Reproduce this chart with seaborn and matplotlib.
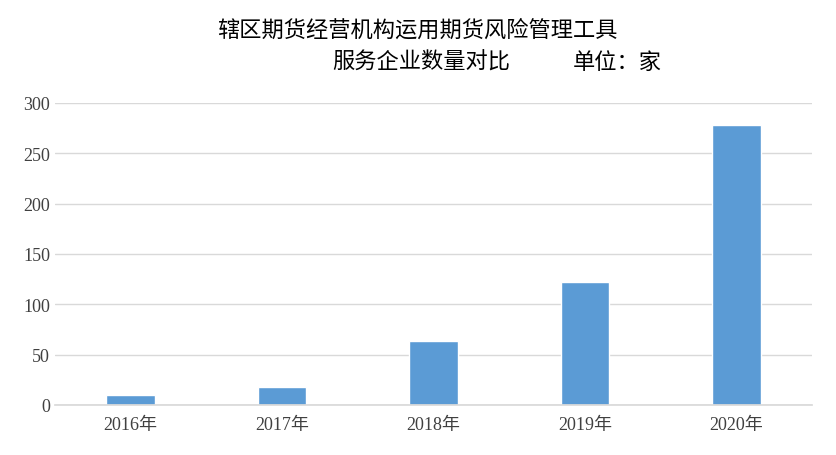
import matplotlib
matplotlib.use("Agg")
import matplotlib.pyplot as plt
import seaborn as sns
import pandas as pd

years = ["2016年", "2017年", "2018年", "2019年", "2020年"]
counts = [10, 18, 64, 122, 278]

sns.set_theme(style="white")
plt.rcParams['font.family'] = ['Liberation Serif', 'Noto Sans CJK SC']

df = pd.DataFrame({"year": years, "count": counts})

fig = plt.figure(figsize=(8.37, 4.56), dpi=100)
ax = fig.add_axes([55 / 837, 50 / 456, 757 / 837, 302 / 456])
sns.barplot(data=df, x="year", y="count", color="#5b9bd5", width=0.32, saturation=1, ax=ax)

ax.set_ylim(0, 300)
ax.set_yticks(range(0, 301, 50))
ax.yaxis.grid(True, color="#d9d9d9", linewidth=1)
ax.set_axisbelow(True)
for s in ["top", "right", "left"]:
    ax.spines[s].set_visible(False)
ax.spines["bottom"].set_color("#d9d9d9")
ax.set_xlabel("")
ax.set_ylabel("")
ax.tick_params(axis="both", labelsize=13, colors="#404040", length=0)
ax.tick_params(axis="x", pad=8)

cjk = ['Noto Sans CJK SC']
fig.text(417 / 837, 1 - 30 / 456, "辖区期货经营机构运用期货风险管理工具", ha="center", va="center",
         fontsize=16, family=cjk, color="#000000")
fig.text(421 / 837, 1 - 62 / 456, "服务企业数量对比", ha="center", va="center",
         fontsize=16, family=cjk, color="#000000")
fig.text(617 / 837, 1 - 62 / 456, "单位：家", ha="center", va="center",
         fontsize=16, family=cjk, color="#000000")

fig.savefig("out.png", dpi=100)
